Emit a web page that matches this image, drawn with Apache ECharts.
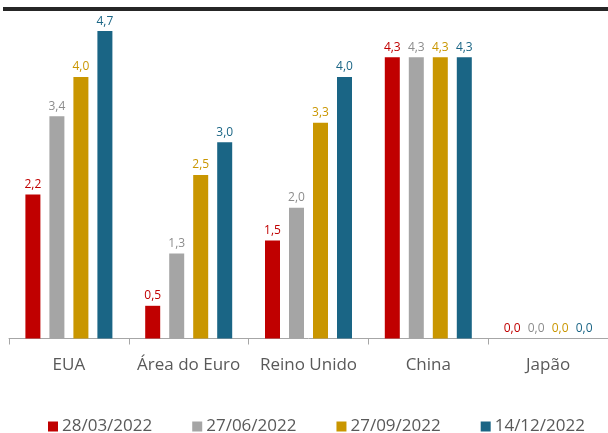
<!DOCTYPE html>
<html><head><meta charset="utf-8">
<script src="https://cdn.jsdelivr.net/npm/echarts@6/dist/echarts.min.js"></script>
<style>html,body{margin:0;padding:0;background:#fff}#c{width:608px;height:433px}</style>
</head><body><div id="c"></div>
<script>
const categories = ['EUA', 'Área do Euro', 'Reino Unido', 'China', 'Japão'];
const seriesNames = ['28/03/2022', '27/06/2022', '27/09/2022', '14/12/2022'];
const s1 = [2.2, 0.5, 1.5, 4.3, 0.0];
const s2 = [3.4, 1.3, 2.0, 4.3, 0.0];
const s3 = [4.0, 2.5, 3.3, 4.3, 0.0];
const s4 = [4.7, 3.0, 4.0, 4.3, 0.0];
const barColors = ['#C00000', '#A5A5A5', '#C99600', '#1A6585'];
const labelColors = ['#C00000', '#8C8C8C', '#C99600', '#1A6585'];
const FONT = 'Open Sans';
const data = [s1, s2, s3, s4];
const chart = echarts.init(document.getElementById('c'), null, {renderer: 'canvas'});
chart.setOption({
  animation: false,
  textStyle: {fontFamily: FONT},
  grid: {left: 9, right: -1, top: 11.5, bottom: 94.5, containLabel: false},
  legend: {
    top: 413, left: 43,
    itemWidth: 10, itemHeight: 10, itemGap: 40,
    icon: 'rect',
    textStyle: {fontFamily: FONT, fontSize: 17, color: '#595959', padding: [0, 0, 0, -1]},
    data: seriesNames
  },
  xAxis: {
    type: 'category', data: categories,
    axisLine: {lineStyle: {color: '#A6A6A6', width: 1}},
    axisTick: {show: true, interval: 0, length: 6, lineStyle: {color: '#A6A6A6'}},
    axisLabel: {interval: 0, fontFamily: FONT, fontSize: 17, color: '#595959', margin: 18}
  },
  yAxis: {type: 'value', min: 0, max: 5, show: false, splitLine: {show: false}},
  series: data.map((d, i) => ({
    name: seriesNames[i], type: 'bar', data: d,
    barWidth: 15, barGap: '60%',
    itemStyle: {color: barColors[i]},
    label: {
      show: true, position: 'top', distance: 4,
      fontFamily: FONT, fontSize: 12, color: labelColors[i],
      formatter: p => p.value.toFixed(1).replace('.', ',')
    }
  })),
  graphic: [
    {type: 'rect', shape: {x: 3, y: 7, width: 605, height: 4}, style: {fill: '#262626'}}
  ]
});
</script></body></html>
